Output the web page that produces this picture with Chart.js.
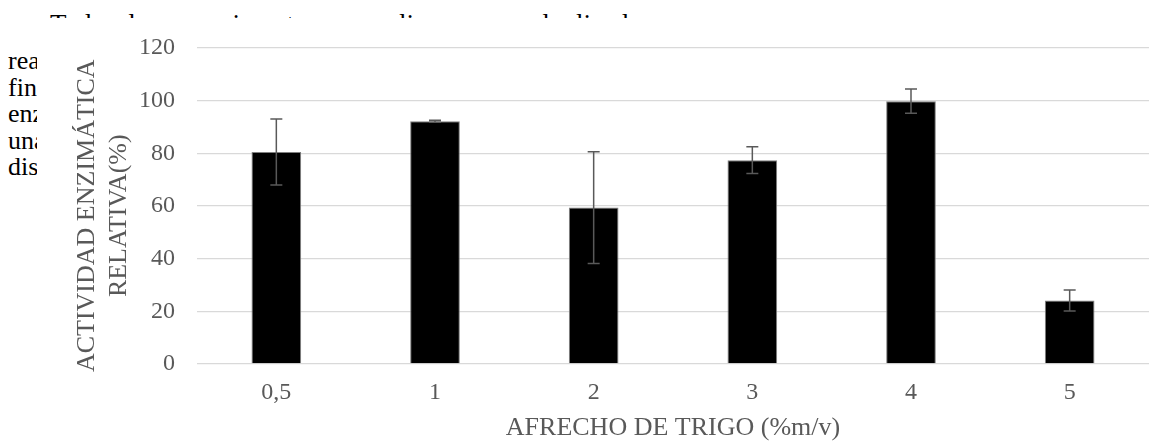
<!DOCTYPE html>
<html>
<head>
<meta charset="utf-8">
<script src="https://cdn.jsdelivr.net/npm/chart.js@4"></script>
<style>
  body { margin: 0; background: #fff; }
  #wrap { position: relative; width: 1154px; height: 444px; overflow: hidden; }
  #wrap canvas { position: absolute; left: 0; top: 0; }
  .doc { position: absolute; font-family: "Times New Roman", "Liberation Serif", Tinos, "DejaVu Serif", serif; font-size: 26px; color: #000; white-space: nowrap; overflow: hidden; }
  #docTop { left: 0; top: 0; width: 1154px; height: 18px; }
  #docTop span { position: absolute; left: 50px; top: 11px; font-size: 27px; line-height: 27px; word-spacing: 6px; }
  #docLeft { left: 0; top: 48px; width: 37px; line-height: 26.5px; padding-left: 8px; box-sizing: border-box; }
</style>
</head>
<body>
<div id="wrap">
  <div class="doc" id="docTop"><span>Todos los experimentos se realizaron por duplicado</span></div>
  <div class="doc" id="docLeft">realizaron<br>final<br>enzima<br>una<br>distintas</div>
  <canvas id="chart"></canvas>
</div>
<script>
// afrecho de trigo (%m/v) vs actividad enzimática relativa (%)
const concentraciones = ['0,5', '1', '2', '3', '4', '5'];
const actividad = [80.5, 92.2, 59.4, 77.4, 99.8, 24.1];
const desviacion = [12.5, 0.4, 21.2, 5.1, 4.6, 4.0];
const yTicks = [0, 20, 40, 60, 80, 100, 120];

const gris = '#595959';
const fuente = '"Times New Roman", "Liberation Serif", Tinos, "DejaVu Serif", serif';

// barras de error dibujadas con las escalas del grafico
const errorBars = {
    id: 'errorBars',
    afterDatasetsDraw(chart) {
        const { ctx, scales: { x, y } } = chart;
        ctx.save();
        ctx.strokeStyle = gris;
        ctx.lineWidth = 1.5;
        actividad.forEach((v, i) => {
            const cx = x.getPixelForValue(i);
            const top = y.getPixelForValue(v + desviacion[i]);
            const bottom = y.getPixelForValue(v - desviacion[i]);
            ctx.beginPath();
            ctx.moveTo(cx, top);
            ctx.lineTo(cx, bottom);
            ctx.moveTo(cx - 6, top);
            ctx.lineTo(cx + 6, top);
            ctx.moveTo(cx - 6, bottom);
            ctx.lineTo(cx + 6, bottom);
            ctx.stroke();
        });
        ctx.restore();
    }
};

document.addEventListener('DOMContentLoaded', () => {
    const ctx = document.getElementById('chart').getContext('2d');
    new Chart(ctx, {
        type: 'bar',
        data: {
            labels: concentraciones,
            datasets: [{
                data: actividad,
                backgroundColor: '#000000',
                borderColor: '#7f7f7f',
                borderWidth: 1,
                barPercentage: 0.313,
                categoryPercentage: 1
            }]
        },
        options: {
            responsive: true,
            maintainAspectRatio: false,
            animation: false,
            layout: { padding: { top: 48, right: 5, left: 0, bottom: 0 } },
            plugins: {
                legend: { display: false },
                tooltip: { enabled: false }
            },
            scales: {
                x: {
                    grid: { display: false },
                    border: { display: false },
                    ticks: {
                        color: gris,
                        padding: 6,
                        font: { family: fuente, size: 24 }
                    },
                    title: {
                        display: true,
                        text: 'AFRECHO DE TRIGO (%m/v)',
                        color: gris,
                        padding: 0,
                        font: { family: fuente, size: 26 }
                    },
                    afterFit(scale) { scale.height = 80; }
                },
                y: {
                    min: 0,
                    max: 120,
                    afterBuildTicks(scale) { scale.ticks = yTicks.map(v => ({ value: v })); },
                    grid: { color: '#d9d9d9', lineWidth: 1.3, drawTicks: false },
                    border: { display: false },
                    ticks: {
                        color: gris,
                        padding: 22,
                        font: { family: fuente, size: 24 }
                    },
                    title: {
                        display: true,
                        // espacios finales: bajan el titulo ~10px como en el original
                        text: ['ACTIVIDAD ENZIMÁTICA   ', 'RELATIVA(%)   '],
                        color: gris,
                        padding: { top: 72, bottom: 0 },
                        font: { family: fuente, size: 26, lineHeight: 1.2 }
                    },
                    afterFit(scale) { scale.width = 197; }
                }
            }
        },
        plugins: [errorBars]
    });
});
</script>
</body>
</html>
